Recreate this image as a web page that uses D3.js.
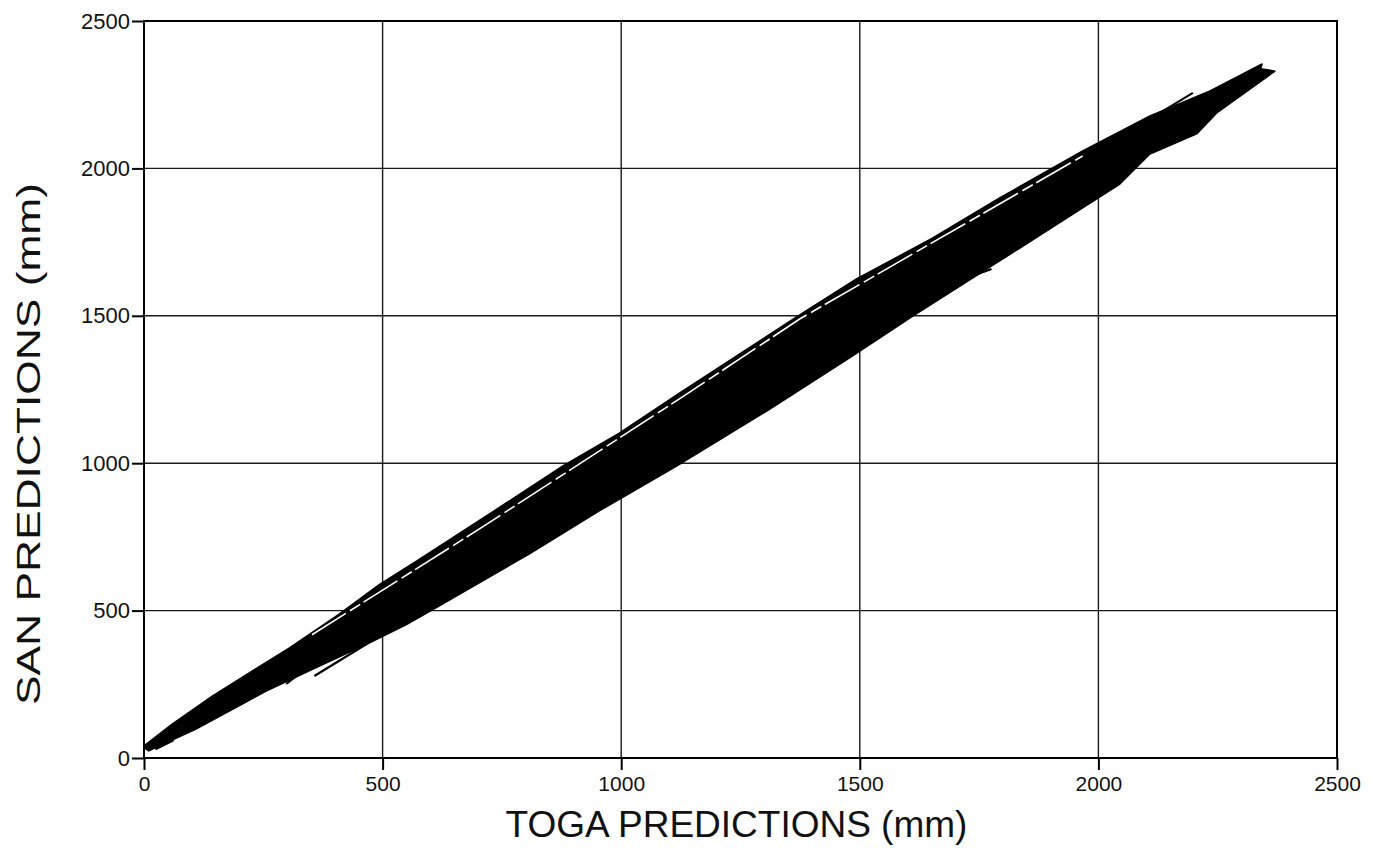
<!DOCTYPE html>
<html><head><meta charset="utf-8">
<script src="https://cdn.jsdelivr.net/npm/d3@7"></script>
<style>body{margin:0;background:#fff}svg{display:block}text{font-family:"Liberation Sans",Arial,sans-serif;fill:#111}</style>
</head><body><svg id="c" width="1380" height="848"></svg>
<script>
const xTicks = [0, 500, 1000, 1500, 2000, 2500];
const yTicks = [0, 500, 1000, 1500, 2000, 2500];
const xTitle = "TOGA PREDICTIONS (mm)";
const yTitle = "SAN PREDICTIONS (mm)";
// upper envelope of the band of SAN vs TOGA predictions
const upperEdge = [[0,41],[59,115],[143,210],[304,373],[409,488],[493,588],[571,668],[724,828],[877,990],[996,1102],[1122,1238],[1374,1503],[1493,1625],[1653,1764],[1793,1900],[1967,2059],[2108,2178],[2234,2263],[2343,2354],[2340,2338],[2370,2330]];
// lower envelope
const lowerEdge = [[0,35],[10,24],[109,98],[256,227],[352,300],[478,395],[549,452],[619,516],[807,692],[954,838],[1116,990],[1305,1177],[1485,1364],[1611,1499],[1793,1686],[1967,1866],[2045,1947],[2108,2049],[2206,2117],[2248,2188],[2370,2330]];
// isolated segments outside the band
const strayLines = [
  [[298,251],[319,278]],
  [[357,278],[487,407]],
  [[1667,1594],[1776,1659]],
  [[2108,2168],[2198,2256]],
  [[24,30],[62,60]]
];
// light gap running just inside the upper edge
const whiteStreak = [[352,418],[703,777],[1122,1218],[1374,1489],[1967,2042]];

const svg = d3.select("#c");
const L = 144, R = 1337, T = 21, B = 758;
const x = d3.scaleLinear().domain([0, 2500]).range([L, R]);
const y = d3.scaleLinear().domain([0, 2500]).range([B, T]);

// grid
const g = svg.append("g");
g.selectAll(".gx").data(xTicks.slice(1, -1)).join("line")
  .attr("x1", d => x(d)).attr("x2", d => x(d)).attr("y1", T).attr("y2", B)
  .attr("stroke", "#1a1a1a").attr("stroke-width", 1.4);
g.selectAll(".gy").data(yTicks.slice(1, -1)).join("line")
  .attr("y1", d => y(d)).attr("y2", d => y(d)).attr("x1", L).attr("x2", R)
  .attr("stroke", "#1a1a1a").attr("stroke-width", 1.4);

// band
const line = d3.line().x(d => x(d[0])).y(d => y(d[1]));
const poly = upperEdge.concat(lowerEdge.slice().reverse());
svg.append("path").attr("d", line(poly) + "Z").attr("fill", "#000").attr("stroke", "#000").attr("stroke-width", 1.5).attr("stroke-linejoin", "round");
svg.append("path").attr("d", line(whiteStreak)).attr("fill", "none").attr("stroke", "#fff").attr("stroke-width", 1.6).attr("stroke-dasharray", "40,5,12,4");
strayLines.forEach(s => svg.append("path").attr("d", line(s)).attr("stroke", "#000").attr("stroke-width", 2.2).attr("fill", "none"));

// frame
svg.append("rect").attr("x", L).attr("y", T).attr("width", R - L).attr("height", B - T)
  .attr("fill", "none").attr("stroke", "#000").attr("stroke-width", 2);

// axes
const xa = svg.append("g").attr("transform", `translate(0,${B})`)
  .call(d3.axisBottom(x).tickValues(xTicks).tickSize(12).tickPadding(6).tickFormat(d3.format("d")));
const ya = svg.append("g").attr("transform", `translate(${L},0)`)
  .call(d3.axisLeft(y).tickValues(yTicks).tickSize(12).tickPadding(2).tickFormat(d3.format("d")));
[xa, ya].forEach(a => {
  a.select(".domain").remove();
  a.selectAll(".tick line").attr("stroke", "#000").attr("stroke-width", 2);
  a.selectAll("text").style("font-size", "21px").attr("fill", "#111");
});
ya.selectAll("text").style("font-size", "22px");

svg.append("text").attr("x", (L + R) / 2 - 4).attr("y", 837).attr("text-anchor", "middle")
  .style("font-size", "37px").text(xTitle);
svg.append("text").attr("transform", `translate(40,444) rotate(-90)`).attr("text-anchor", "middle")
  .attr("textLength", 522).attr("lengthAdjust", "spacingAndGlyphs")
  .style("font-size", "33px").text(yTitle);
</script></body></html>
